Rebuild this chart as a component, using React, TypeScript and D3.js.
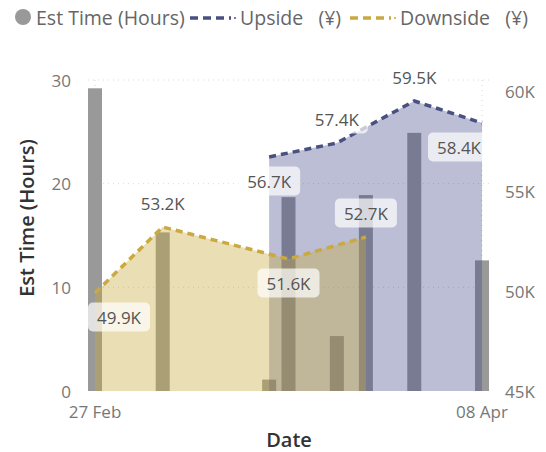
import React from "react";
import * as d3 from "d3";

// bar series: Est Time (Hours)
const barDates = ["2023-02-27", "2023-03-06", "2023-03-17", "2023-03-19", "2023-03-24", "2023-03-27", "2023-04-01", "2023-04-08"];
const estHours = [29.2, 15.3, 1.1, 18.7, 5.3, 18.9, 24.9, 12.6];

// area series (right axis)
const upsideDates = ["2023-03-17", "2023-03-24", "2023-04-01", "2023-04-08"];
const upsideValues = [56700, 57400, 59500, 58400];
const upsideLabelAbove = [false, true, true, false];

const downsideDates = ["2023-02-27", "2023-03-06", "2023-03-19", "2023-03-27"];
const downsideValues = [49900, 53200, 51600, 52700];
const downsideLabelAbove = [false, true, false, true];

const leftTicks = [0, 10, 20, 30];
const rightTicks = [45000, 50000, 55000, 60000];
const xTickDates = ["2023-02-27", "2023-04-08"];

const FONT = "'Open Sans', 'Segoe UI', sans-serif";
const parse = (s: string) => new Date(s + "T00:00:00Z");

export default function App() {
  const width = 546;
  const height = 452;
  const plotLeft = 88;
  const plotRight = 490;

  const x = d3.scaleUtc()
    .domain([parse("2023-02-27"), parse("2023-04-08")])
    .range([95, 482]);
  const yLeft = d3.scaleLinear().domain([0, 30]).range([391, 80]);
  const yRight = d3.scaleLinear().domain([45000, 60000]).range([391, 91]);

  const up = upsideDates.map((d, i) => ({ date: parse(d), value: upsideValues[i], above: upsideLabelAbove[i] }));
  const down = downsideDates.map((d, i) => ({ date: parse(d), value: downsideValues[i], above: downsideLabelAbove[i] }));

  const area = d3.area<{ date: Date; value: number }>()
    .x(d => x(d.date))
    .y0(yRight(45000))
    .y1(d => yRight(d.value));
  const line = d3.line<{ date: Date; value: number }>()
    .x(d => x(d.date))
    .y(d => yRight(d.value));

  const fmt = (v: number) => d3.format(".1f")(v / 1000) + "K";
  const barW = 14;
  const boxW = 62;
  const boxH = 29;

  const renderLabels = (pts: { date: Date; value: number; above: boolean }[], key: string) =>
    pts.map((p, i) => {
      const px = x(p.date);
      const py = yRight(p.value) + (p.above ? -24 : 24);
      let bx = px - boxW / 2;
      bx = Math.max(plotLeft, Math.min(plotRight - boxW, bx));
      return (
        <g key={key + i}>
          <rect x={bx} y={py - boxH / 2} width={boxW} height={boxH} rx={5} fill="#ffffff" fillOpacity={0.7} />
          <text x={bx + boxW / 2} y={py} textAnchor="middle" dominantBaseline="central"
            fontSize={17} fill="#555" fontFamily={FONT}>{fmt(p.value)}</text>
        </g>
      );
    });

  return (
    <svg width={width} height={height} style={{ position: "absolute", left: 0, top: 0, background: "#fff" }}>
      {/* legend */}
      <g fontFamily={FONT} fontSize={19.5} fill="#666">
        <circle cx={23} cy={17} r={8} fill="#999" />
        <text x={36} y={17} dominantBaseline="central">Est Time (Hours)</text>
        <line x1={190} x2={231} y1={18} y2={18} stroke="#4a5080" strokeWidth={3.5} strokeDasharray="8 5" />
        <circle cx={235} cy={18} r={1} fill="#4a5080" />
        <text x={240} y={17} dominantBaseline="central" style={{ whiteSpace: "pre" }}>{"Upside   (¥)"}</text>
        <line x1={350} x2={391} y1={18} y2={18} stroke="#c9a940" strokeWidth={3.5} strokeDasharray="8 5" />
        <circle cx={395} cy={18} r={1} fill="#c9a940" />
        <text x={400} y={17} dominantBaseline="central" style={{ whiteSpace: "pre" }}>{"Downside   (¥)"}</text>
      </g>

      {/* gridlines */}
      {leftTicks.filter(t => t > 0).map(t => (
        <line key={"g" + t} x1={plotLeft} x2={plotRight} y1={yLeft(t)} y2={yLeft(t)}
          stroke="#d8d8d8" strokeDasharray="1 4" />
      ))}
      {xTickDates.map(d => (
        <line key={"v" + d} x1={x(parse(d))} x2={x(parse(d))} y1={80} y2={391}
          stroke="#d8d8d8" strokeDasharray="1 4" />
      ))}

      {/* bars */}
      {barDates.map((d, i) => (
        <rect key={"b" + i} x={x(parse(d)) - barW / 2} y={yLeft(estHours[i])} width={barW}
          height={yLeft(0) - yLeft(estHours[i])} fill="#999999" />
      ))}

      {/* areas */}
      <path d={area(up) || ""} fill="#3b4585" fillOpacity={0.35} />
      <path d={area(down) || ""} fill="#c8a83c" fillOpacity={0.38} />
      <path d={line(up) || ""} fill="none" stroke="#4a5080" strokeWidth={3.5} strokeDasharray="7 5" />
      <path d={line(down) || ""} fill="none" stroke="#c9a940" strokeWidth={3.5} strokeDasharray="7 5" />

      {/* labels */}
      {renderLabels(down, "d")}
      {renderLabels(up, "u")}

      {/* axes tick labels */}
      <g fontFamily={FONT} fontSize={17} fill="#777">
        {leftTicks.map(t => (
          <text key={"l" + t} x={71} y={yLeft(t)} textAnchor="end" dominantBaseline="central">{t}</text>
        ))}
        {rightTicks.map(t => (
          <text key={"r" + t} x={505} y={yRight(t)} dominantBaseline="central">{d3.format(".0f")(t / 1000) + "K"}</text>
        ))}
        {xTickDates.map(d => (
          <text key={"x" + d} x={x(parse(d))} y={411} textAnchor="middle" dominantBaseline="central">
            {d3.utcFormat("%d %b")(parse(d))}
          </text>
        ))}
      </g>

      {/* axis titles */}
      <text x={289} y={439} textAnchor="middle" dominantBaseline="central" fontFamily={FONT}
        fontSize={20} fontWeight={600} fill="#333">Date</text>
      <text transform="translate(26,218) rotate(-90)" textAnchor="middle" dominantBaseline="central"
        fontFamily={FONT} fontSize={20} fontWeight={600} fill="#333">Est Time (Hours)</text>
    </svg>
  );
}
